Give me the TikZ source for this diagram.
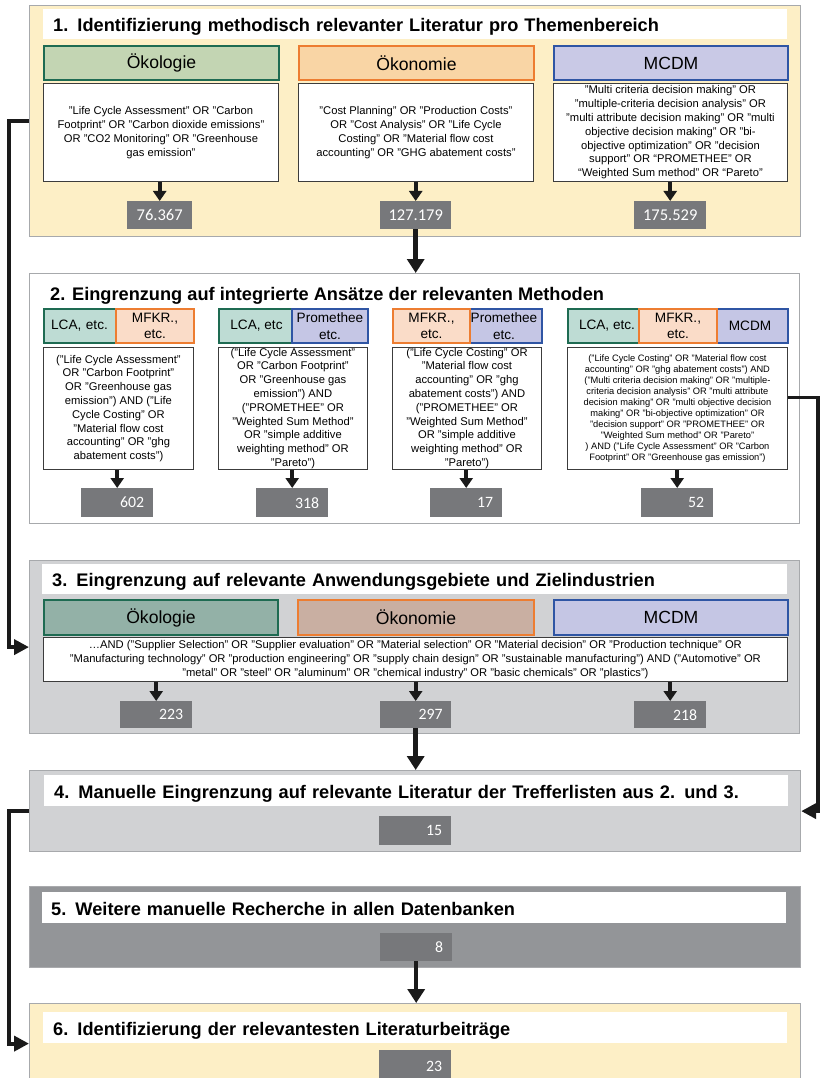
\documentclass[tikz,border=0pt]{standalone}
\usepackage{fontspec}
\setmainfont{Liberation Sans}
\newfontfamily\numfamily{Carlito}
\usetikzlibrary{arrows.meta}
\definecolor{ylw}{HTML}{FDEFC6}
\definecolor{pgray}{HTML}{A7A9AC}
\definecolor{lgray}{HTML}{D1D2D4}
\definecolor{mgray}{HTML}{939598}
\definecolor{cgray}{HTML}{77787B}
\definecolor{dgreen}{HTML}{1E6B52}
\definecolor{orng}{HTML}{ED7D31}
\definecolor{blu}{HTML}{2F55A4}
\definecolor{ecoA}{HTML}{C3D5B3}
\definecolor{oekA}{HTML}{F9D5A5}
\definecolor{mcA}{HTML}{C9C9E6}
\definecolor{lcaB}{HTML}{BEDCD4}
\definecolor{mfB}{HTML}{FADCC8}
\definecolor{prB}{HTML}{C5C6E5}
\definecolor{ecoC}{HTML}{93B1A7}
\definecolor{oekC}{HTML}{C9AFA2}
\definecolor{mcC}{HTML}{C5C6E4}
\definecolor{qborder}{HTML}{3C3C3C}
\definecolor{linkc}{HTML}{1A1A1A}
\newcommand\FTtitle{\fontsize{18.2}{21}\selectfont\bfseries}
\newcommand\FTcat{\fontsize{17.6}{20}\selectfont}
\newcommand\FTsub{\fontsize{13.6}{16.5}\selectfont}
\newcommand\FTq{\fontsize{11.2}{13.8}\selectfont}
\newcommand\FTqs{\fontsize{9.3}{11}\selectfont}
\newcommand\FTnum{\numfamily\fontsize{16.5}{18}\selectfont}
\newcommand\FTnumb{\numfamily\fontsize{15.8}{18}\selectfont}
\tikzset{
  bx/.style n args={4}{anchor=north west, at={(#1,#2)}, minimum width={(#3-(#1))*1pt}, minimum height={(#4-(#2))*1pt}},
  panel/.style={draw=pgray, line width=1.2pt, inner sep=0pt},
  band/.style={fill=white, inner sep=0pt, font=\FTtitle, align=left, text height=15pt, text depth=0pt},
  cat/.style={line width=2pt, inner sep=0pt, font=\FTcat},
  sub/.style={line width=2pt, inner sep=0pt, font=\FTsub, align=center},
  qbox/.style={draw=qborder, fill=white, line width=0.9pt, inner sep=0pt, align=center, font=\FTq},
  cnt/.style={fill=cgray, text=white, inner sep=0pt, font=\FTnumb, align=right, text width=54pt},
  cntc/.style={fill=cgray, text=white, inner sep=0pt, font=\FTnum, align=center},
  arr/.style={draw=linkc, line width=3.6pt, -{Triangle[width=13pt,length=10pt]}},
  bigarr/.style={draw=linkc, line width=4.5pt, -{Triangle[width=17pt,length=14pt]}},
  link/.style={draw=linkc, line width=3.8pt, -{Triangle[width=15pt,length=15pt]}}
}
\begin{document}
\begin{tikzpicture}[x=1pt,y=-1pt]
\useasboundingbox (0,0) rectangle (819,1078);
% ---------- Panel 1
\node[panel, fill=ylw, bx={29}{5}{800}{236}] (p1) {};
\node[band, bx={43}{9}{787}{39}, text width=724pt] (t1) {1. Identifizierung methodisch relevanter Literatur pro Themenbereich};
\node[cat, draw=dgreen, fill=ecoA, bx={43}{45}{278}{79}] (k11) {Ökologie};
\node[cat, draw=orng, fill=oekA, bx={298}{45}{533}{79}] (k12) {Ökonomie};
\node[cat, draw=blu, fill=mcA, bx={553}{45}{787}{79}] (k13) {MCDM};
\node[qbox, bx={43}{83}{278}{181}] (q11) {"Life Cycle Assessment" OR "Carbon\\Footprint"  OR "Carbon dioxide emissions"\\OR "CO2 Monitoring"  OR "Greenhouse\\gas emission"};
\node[qbox, bx={298}{83}{533}{181}] (q12) {"Cost Planning" OR "Production Costs"\\OR "Cost Analysis" OR "Life Cycle\\Costing" OR "Material flow cost\\accounting" OR "GHG abatement costs"};
\node[qbox, bx={553}{83}{787}{181}] (q13) {"Multi criteria decision making" OR\\"multiple-criteria decision  analysis" OR\\"multi attribute decision making" OR "multi\\objective decision making" OR "bi-\\objective optimization" OR "decision\\support" OR “PROMETHEE”  OR\\“Weighted Sum method” OR “Pareto”};
\node[cntc, bx={127}{201}{192}{229}] (c11) {76.367};
\node[cntc, bx={380}{201}{451}{229}] (c12) {127.179};
\node[cntc, bx={634}{201}{706}{229}] (c13) {175.529};
\draw[arr] (c11.north |- q11.south) -- (c11.north);
\draw[arr] (c12.north |- q12.south) -- (c12.north);
\draw[arr] (c13.north |- q13.south) -- (c13.north);
% ---------- Panel 2
\node[panel, fill=white, bx={29}{273}{799}{523}] (p2) {};
\draw[bigarr] (c12.south) -- (c12.south |- p2.north);
\node[anchor=west, inner sep=0pt, font=\FTtitle] (t2) at (50,296) {2. Eingrenzung auf integrierte Ansätze der relevanten Methoden};
\node[sub, draw=dgreen, fill=lcaB, bx={43}{308}{120}{342}, text width=72pt] (s11) {\hspace*{-6pt}LCA, etc.};
\node[sub, draw=orng, fill=mfB, bx={115}{308}{193}{342}] (s12) {MFKR.,\\etc.};
\node[sub, draw=dgreen, fill=lcaB, bx={218}{308}{293}{342}] (s21) {LCA, etc};
\node[sub, draw=blu, fill=prB, bx={291}{308}{367}{342}] (s22) {Promethee\\etc.};
\node[sub, draw=blu, fill=prB, bx={465}{308}{541}{342}] (s32) {Promethee\\etc.};
\node[sub, draw=orng, fill=mfB, bx={392}{308}{469}{342}] (s31) {MFKR.,\\etc.};
\node[sub, draw=dgreen, fill=lcaB, bx={567}{308}{645}{342}] (s41) {LCA, etc.};
\node[sub, draw=blu, fill=prB, bx={711}{308}{787}{342}] (s43) {MCDM};
\node[sub, draw=orng, fill=mfB, bx={638}{308}{716}{342}] (s42) {MFKR.,\\etc.};
\node[qbox, bx={43}{347}{193}{469}] (q21) {("Life Cycle Assessment"\\OR  "Carbon Footprint"\\OR "Greenhouse gas\\emission") AND ("Life\\Cycle Costing"  OR\\"Material flow cost\\accounting" OR "ghg\\abatement costs")};
\node[qbox, bx={218}{347}{367}{469}] (q22) {("Life Cycle Assessment"\\OR "Carbon Footprint"\\OR "Greenhouse gas\\emission") AND\\("PROMETHEE"  OR\\"Weighted Sum Method"\\OR "simple additive\\weighting method" OR\\"Pareto")};
\node[qbox, bx={392}{347}{541}{469}] (q23) {("Life Cycle Costing" OR\\"Material flow cost\\accounting" OR "ghg\\abatement costs") AND\\("PROMETHEE"  OR\\"Weighted Sum Method"\\OR "simple additive\\weighting  method" OR\\"Pareto")};
\node[qbox, font=\FTqs, bx={567}{347}{787}{469}] (q24) {("Life Cycle Costing" OR "Material flow cost\\accounting" OR "ghg abatement costs") AND\\("Multi criteria decision making" OR "multiple-\\criteria decision  analysis" OR "multi attribute\\decision making"  OR "multi objective decision\\making" OR "bi-objective optimization" OR\\"decision support" OR "PROMETHEE"  OR\\"Weighted Sum method" OR "Pareto"\\) AND ("Life Cycle Assessment" OR "Carbon\\Footprint" OR "Greenhouse gas emission")};
\node[cnt, bx={81}{488}{153}{517}] (c21) {602};
\node[cnt, bx={256}{488}{328}{517}] (c22) {318};
\node[cnt, bx={430}{488}{502}{517}] (c23) {17};
\node[cnt, bx={641}{488}{713}{517}] (c24) {52};
\draw[arr] (c21.north |- q21.south) -- (c21.north);
\draw[arr] (c22.north |- q22.south) -- (c22.north);
\draw[arr] (c23.north |- q23.south) -- (c23.north);
\draw[arr] (c24.north |- q24.south) -- (c24.north);
% ---------- Panel 3
\node[panel, fill=lgray, bx={29}{560}{799}{733}] (p3) {};
\node[band, bx={42}{564}{787}{594}, text width=725pt] (t3) {3. Eingrenzung auf relevante Anwendungsgebiete und Zielindustrien};
\node[cat, draw=dgreen, fill=ecoC, bx={43}{599}{277}{634}] (k31) {Ökologie};
\node[cat, draw=orng, fill=oekC, bx={297}{599}{533}{634}] (k32) {Ökonomie};
\node[cat, draw=blu, fill=mcC, bx={553}{599}{787}{634}] (k33) {MCDM};
\node[qbox, bx={43}{637}{787}{681}] (q3) {…AND ("Supplier  Selection" OR "Supplier evaluation"  OR "Material  selection" OR "Material  decision" OR "Production technique" OR\\"Manufacturing  technology" OR "production engineering"  OR "supply chain design" OR "sustainable manufacturing")  AND ("Automotive" OR\\"metal" OR "steel" OR "aluminum" OR "chemical industry" OR "basic chemicals" OR "plastics")};
\node[cnt, bx={120}{701}{192}{728}] (c31) {223};
\node[cnt, bx={380}{701}{451}{728}] (c32) {297};
\node[cnt, bx={634}{701}{706}{728}] (c33) {218};
\draw[arr] (c31.north |- q3.south) -- (c31.north);
\draw[arr] (c32.north |- q3.south) -- (c32.north);
\draw[arr] (c33.north |- q3.south) -- (c33.north);
% ---------- Panel 4
\node[panel, fill=lgray, bx={29}{770}{800}{851}] (p4) {};
\draw[bigarr] (c32.south) -- (c32.south |- p4.north);
\node[band, bx={44}{775}{788}{806}, text width=724pt] (t4) {4. Manuelle Eingrenzung auf relevante Literatur der Trefferlisten aus 2. und 3.};
\node[cnt, bx={379}{816}{451}{845}] (c4) {15};
% ---------- Panel 5
\node[panel, draw=mgray!80!white, fill=mgray, bx={29}{886}{800}{967}] (p5) {};
\node[band, bx={42}{892}{786}{923}, text width=726pt] (t5) {5. Weitere manuelle Recherche in allen Datenbanken};
\node[cnt, bx={380}{933}{452}{961}] (c5) {8};
% ---------- Panel 6
\node[panel, fill=ylw, bx={29}{1003}{800}{1083}] (p6) {};
\draw[bigarr] (c5.south) -- (c5.south |- p6.north);
\node[band, bx={43}{1012}{787}{1043}, text width=724pt] (t6) {6. Identifizierung der relevantesten Literaturbeiträge};
\node[cnt, bx={379}{1050}{451}{1085}] (c6) {\raisebox{3pt}{23}};
% ---------- connectors
\draw[link] (p1.west) -- ++(-20,0) |- (p3.west);
\draw[link] ([yshift=11pt]q24.east) -- ++(30,0) |- (p4.east);
\draw[link] (p4.west) -- ++(-20,0) |- (p6.west);
\end{tikzpicture}
\end{document}
